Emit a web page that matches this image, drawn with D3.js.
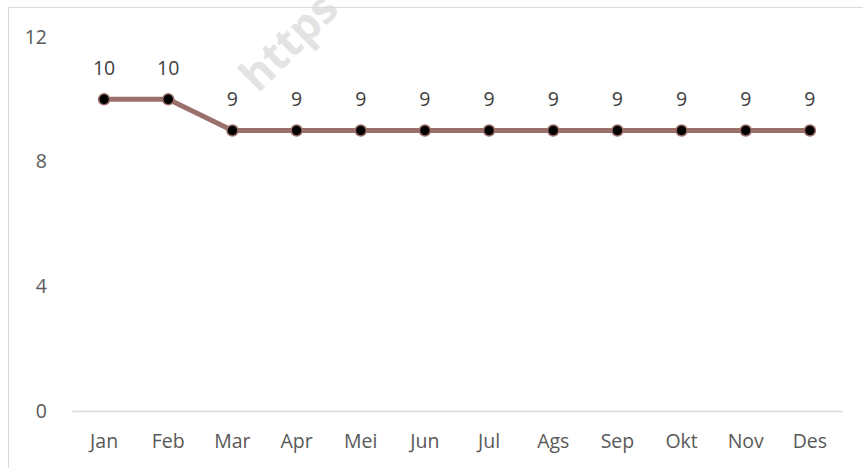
<!DOCTYPE html>
<html lang="en">
<head>
    <meta charset="UTF-8">
    <title>Monthly line chart</title>
    <script src="https://d3js.org/d3.v7.min.js"></script>
    <style>
        body { margin: 0; background: white; }
        text { font-family: "Open Sans", "Liberation Sans", sans-serif; }
    </style>
</head>
<body>
    <svg width="863" height="468"></svg>
    <script>
        var months = ["Jan", "Feb", "Mar", "Apr", "Mei", "Jun", "Jul", "Ags", "Sep", "Okt", "Nov", "Des"];
        var values = [10, 10, 9, 9, 9, 9, 9, 9, 9, 9, 9, 9];
        var yTicks = [0, 4, 8, 12];

        var svg = d3.select("svg");

        // faint watermark, runs off the top of the picture
        svg.append("text")
            .attr("transform", "translate(258,94) rotate(-45)")
            .attr("font-size", 44)
            .attr("font-weight", "bold")
            .attr("fill", "#e3e3e3")
            .text("https");

        // chart frame (only top and left edges show in the picture)
        svg.append("rect")
            .attr("x", 8.5).attr("y", 7.5)
            .attr("width", 900).attr("height", 500)
            .attr("fill", "none")
            .attr("stroke", "#d9d9d9");

        var x = d3.scaleBand().domain(months).range([72, 842]);
        var y = d3.scaleLinear().domain([0, 12]).range([411, 37]);

        // y tick labels
        svg.selectAll(".ylab")
            .data(yTicks)
            .enter().append("text")
            .attr("class", "ylab")
            .attr("x", 47)
            .attr("y", function(d) { return y(d); })
            .attr("dy", "0.35em")
            .attr("text-anchor", "end")
            .attr("font-size", 19.5)
            .attr("fill", "#595959")
            .text(function(d) { return d; });

        // x axis
        var xAxis = svg.append("g")
            .attr("transform", "translate(0," + y(0) + ")")
            .call(d3.axisBottom(x).tickSize(0).tickPadding(23));
        xAxis.select(".domain").attr("stroke", "#d9d9d9").attr("stroke-width", 1.3);
        xAxis.selectAll("text")
            .attr("font-size", 19.5)
            .attr("fill", "#595959")
            .style("font-family", "'Open Sans', 'Liberation Sans', sans-serif");

        var cx = function(d, i) { return x(months[i]) + x.bandwidth() / 2; };

        var line = d3.line()
            .x(cx)
            .y(function(d) { return y(d); });

        svg.append("path")
            .datum(values)
            .attr("d", line)
            .attr("fill", "none")
            .attr("stroke", "#9b6f6a")
            .attr("stroke-width", 5);

        svg.selectAll(".pt")
            .data(values)
            .enter().append("circle")
            .attr("class", "pt")
            .attr("cx", cx)
            .attr("cy", function(d) { return y(d); })
            .attr("r", 5.5)
            .attr("fill", "black")
            .attr("stroke", "#9b6f6a")
            .attr("stroke-width", 1.5);

        svg.selectAll(".lab")
            .data(values)
            .enter().append("text")
            .attr("class", "lab")
            .attr("x", cx)
            .attr("y", function(d) { return y(d) - 31; })
            .attr("dy", "0.35em")
            .attr("text-anchor", "middle")
            .attr("font-size", 19.5)
            .attr("fill", "#404040")
            .text(function(d) { return d; });
    </script>
</body>
</html>
